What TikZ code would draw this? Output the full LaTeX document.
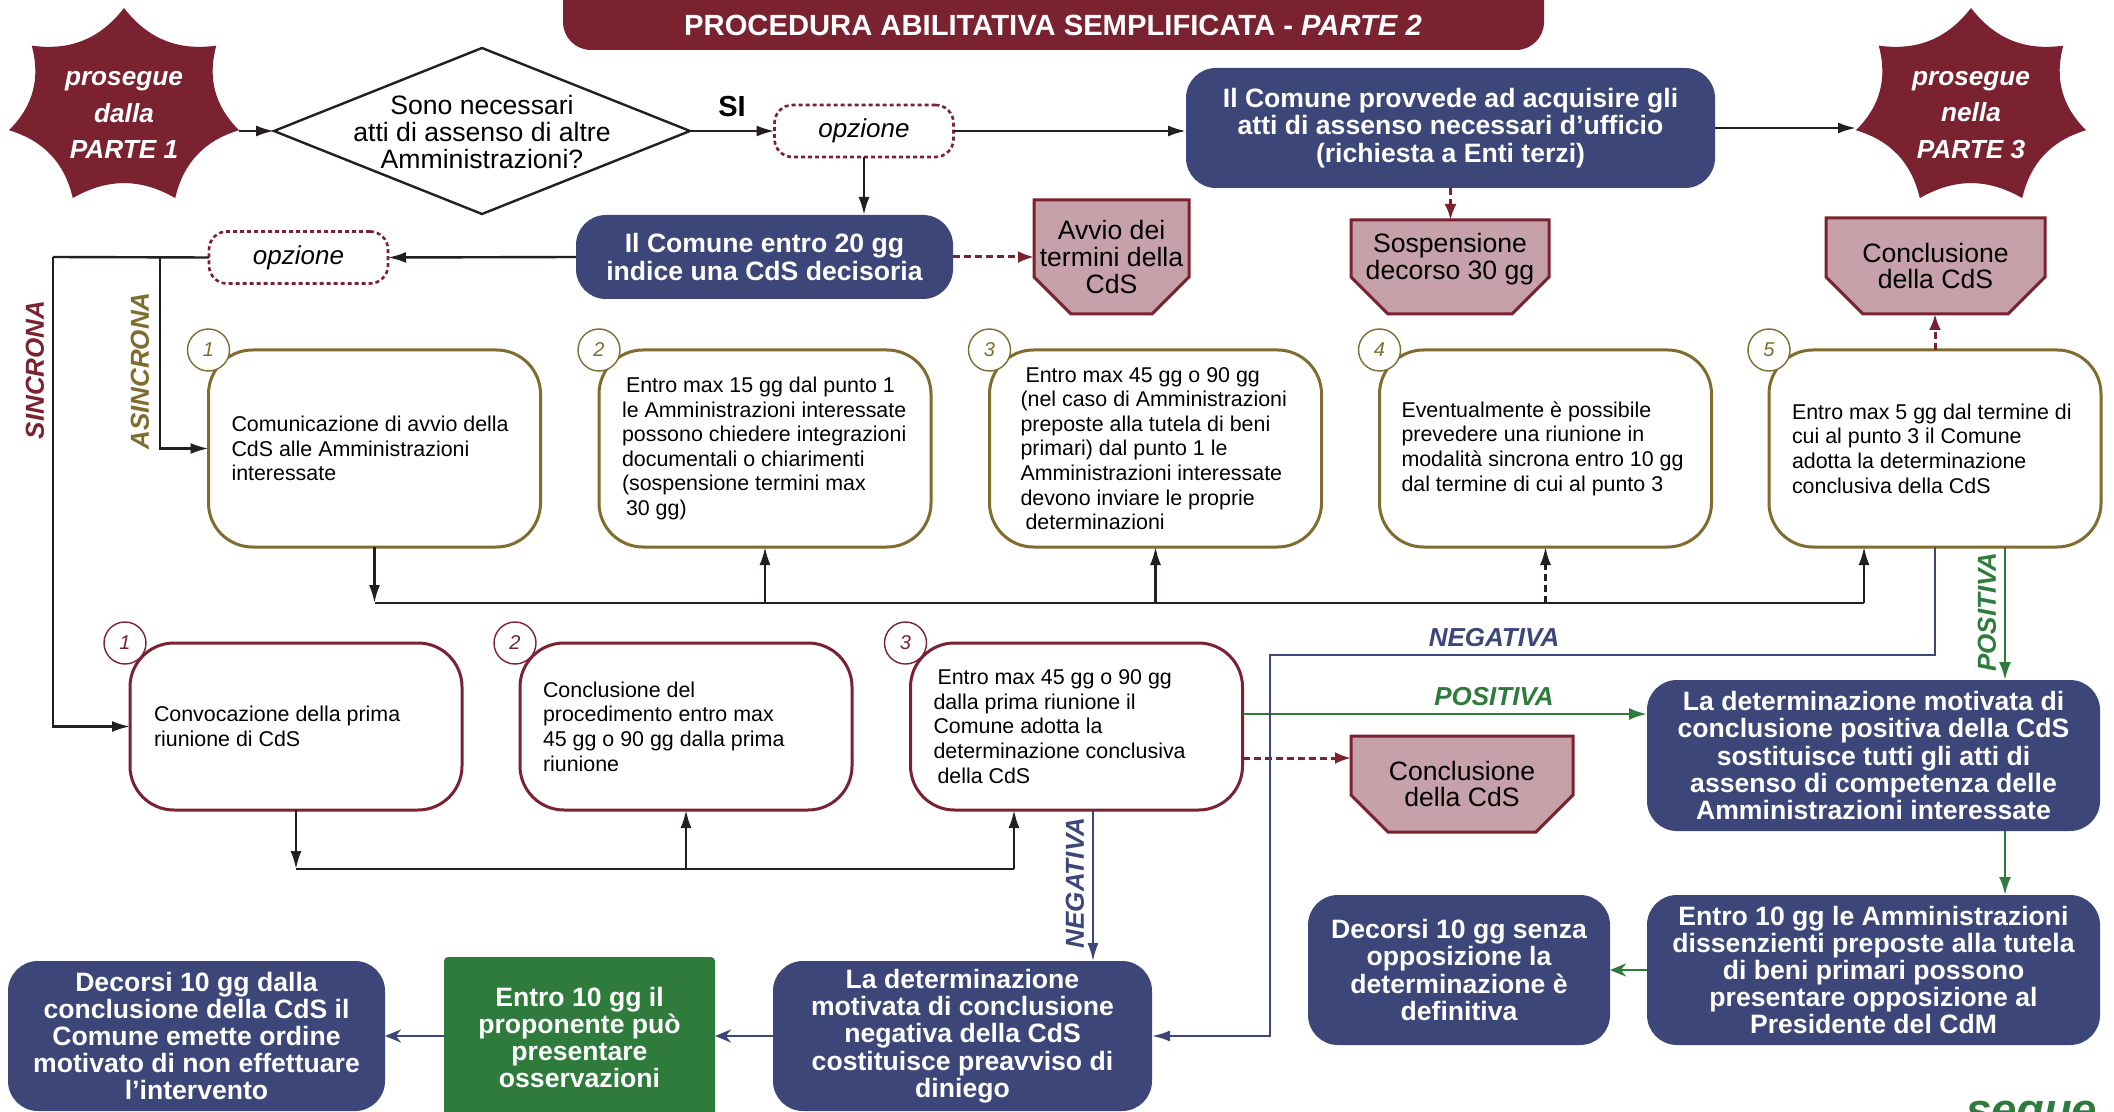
\documentclass[tikz,border=0pt]{standalone}
\usepackage{fontspec}
\setmainfont{Liberation Sans}
\usetikzlibrary{arrows.meta,shapes.geometric}

\definecolor{cMaroon}{HTML}{7A2230}
\definecolor{cOlive}{HTML}{7F6C2E}
\definecolor{cNavy}{HTML}{3C4679}
\definecolor{cPink}{HTML}{C6A1A9}
\definecolor{cGreen}{HTML}{2E7B3C}
\definecolor{cInk}{HTML}{231F20}

\newcommand\fsz[2]{\fontsize{#1pt}{#2pt}\selectfont}

\pgfdeclarelayer{bg}
\pgfsetlayers{bg,main}

% seven-pointed burst with concave sides, centred at (#1,#2)
\newcommand\burst[2]{%
  \begin{scope}[shift={(#1,#2)}]
    \fill[cMaroon] (-90:118 and 100)
      \foreach \k in {1,...,6}{ to[bend right=30] ({-90+\k*360/7}:118 and 100) }
      to[bend right=30] (-90:118 and 100) -- cycle;
  \end{scope}}

% chamfered outline behind a pink node; #2 = how far the outline reaches below the node
\newcommand\pinkoutline[2]{%
  \draw[pinkshape] (#1.north west) -- (#1.north east)
    -- ([yshift=18.5pt-#2]#1.south east) -- ([xshift=-18.5pt,yshift=-#2]#1.south east)
    -- ([xshift=18.5pt,yshift=-#2]#1.south west) -- ([yshift=18.5pt-#2]#1.south west) -- cycle;}

\tikzset{
  every node/.style={inner sep=0pt, outer sep=0pt},
  titletext/.style={font=\bfseries\fsz{14.6}{17}, text=white},
  startext/.style={font=\bfseries\itshape\fsz{13.1}{18.3}, text=white, align=center},
  decision/.style={diamond, draw=cInk, line width=1.2pt, fill=white,
    minimum width=208pt, minimum height=83pt},
  qtext/.style={font=\fsz{13.3}{13.5}, align=center},
  silabel/.style={font=\bfseries\fsz{14.5}{16}},
  optbox/.style={draw=cMaroon, line width=1.3pt, dash pattern=on 2pt off 1.5pt,
    rounded corners=9pt, fill=white, minimum width=89.5pt, minimum height=26pt,
    font=\itshape\fsz{13}{15}},
  navybox/.style={fill=cNavy, rounded corners=15pt, text=white, align=center,
    font=\bfseries\fsz{13.3}{13.6}},
  greenbox/.style={fill=cGreen, rounded corners=2pt, text=white, align=center,
    font=\bfseries\fsz{13.3}{13.6}},
  pinkbox/.style={align=center, font=\fsz{13.3}{13.3}},
  pinkshape/.style={fill=cPink, draw=cMaroon, line width=1.5pt},
  olivebox/.style={draw=cOlive, line width=1.5pt, fill=white, rounded corners=22pt,
    minimum width=166pt, minimum height=98.5pt},
  maroonbox/.style={draw=cMaroon, line width=1.5pt, fill=white, rounded corners=22pt,
    minimum width=166pt, minimum height=83.5pt},
  boxtext/.style={anchor=west, align=left, font=\fsz{10.7}{12.3}},
  numcirc/.style={circle, draw=#1, fill=white, line width=0.7pt, minimum size=21pt,
    text=#1, font=\itshape\fsz{10}{12}},
  lbl/.style={font=\bfseries\itshape\fsz{13}{15}},
  bus/.style={draw=cInk, line width=1.2pt},
  arr/.style={bus, -{Latex[length=9pt,width=5.5pt]}},
  dasharr/.style={arr, dash pattern=on 3.5pt off 2pt},
  maroonarr/.style={draw=cMaroon, line width=1.5pt, dash pattern=on 3.5pt off 2pt,
    -{Latex[length=8pt,width=6pt]}},
  navyarr/.style={draw=cNavy, line width=1pt, -{Latex[length=9pt,width=5.5pt]}},
  navyarrS/.style={draw=cNavy, line width=1.4pt, -{Stealth[length=8pt,width=6.5pt]}},
  greenarr/.style={draw=cGreen, line width=1.3pt, -{Latex[length=9pt,width=6pt]}},
  greenarrS/.style={draw=cGreen, line width=1.4pt, -{Stealth[length=8pt,width=6.5pt]}},
}

\begin{document}
\begin{tikzpicture}[x=0.5pt,y=-0.5pt]
\useasboundingbox (0,0) rectangle (2114,1112);
\begin{pgfonlayer}{bg}
  \fill[white] (0,0) rectangle (2114,1112);
\end{pgfonlayer}
\clip (0,0) rectangle (2114,1112);

% ---------- title band ----------
\fill[cMaroon, rounded corners=14pt] (563,-40) rectangle (1544,50);
\node[titletext] (title) at (1053,25) {PROCEDURA ABILITATIVA SEMPLIFICATA - \textit{PARTE 2}};

% ---------- continuation bursts ----------
\burst{124}{108}
\burst{1971}{108}
\node[startext] (fromP1) at (124,115) {prosegue\\dalla\\PARTE 1};
\node[startext] (toP3) at (1971,115) {prosegue\\nella\\PARTE 3};
\coordinate (fromP1tip) at (239,131);
\coordinate (toP3tip) at (1856,130);

% ---------- first row ----------
\node[decision] (q) at (482,131) {};
\node[qtext] (qt) at (482,132) {Sono necessari\\atti di assenso di altre\\Amministrazioni?};
\node[silabel] (si) at (732,107) {SI};
\node[optbox] (opz1) at (864,131) {opzione};
\node[navybox, minimum width=264.5pt, minimum height=60pt] (blue1) at (1450.5,128)
  {Il Comune provvede ad acquisire gli\\atti di assenso necessari d’ufficio\\(richiesta a Enti terzi)};
\node[navybox, minimum width=188.5pt, minimum height=42pt] (blue2) at (764.5,257)
  {Il Comune entro 20 gg\\indice una CdS decisoria};
\node[optbox] (opz2) at (298.5,257.5) {opzione};

% ---------- pink milestones ----------
\node[pinkbox, minimum width=77.5pt, minimum height=57pt] (p1) at (1111.5,257) {Avvio dei\\termini della\\CdS};
\node[pinkbox, minimum width=99pt, minimum height=39pt] (p2) at (1450,259) {Sospensione\\decorso 30 gg};
\node[pinkbox, minimum width=109.5pt, minimum height=48pt] (p3) at (1935.5,266) {Conclusione\\della CdS};
\node[pinkbox, minimum width=111pt, minimum height=48pt] (p4) at (1462,784) {Conclusione\\della CdS};
\begin{pgfonlayer}{bg}
  \pinkoutline{p1}{0pt}\pinkoutline{p2}{8pt}\pinkoutline{p3}{0pt}\pinkoutline{p4}{0pt}
\end{pgfonlayer}

% ---------- asynchronous conference ----------
\node[olivebox] (a1) at (374.5,448.5) {};
\node[olivebox] (a2) at (765,448.5) {};
\node[olivebox] (a3) at (1155.5,448.5) {};
\node[olivebox] (a4) at (1545.5,448.5) {};
\node[olivebox] (a5) at (1935,448.5) {};
\node[boxtext] (a1t) at ([xshift=11.5pt]a1.west) {Comunicazione di avvio della\\CdS alle Amministrazioni\\interessate};
\node[boxtext] (a2t) at ([xshift=11.5pt]a2.west) {\hspace*{2pt}Entro max 15 gg dal punto 1\\le Amministrazioni interessate\\possono chiedere integrazioni\\documentali o chiarimenti\\(sospensione termini max\\\hspace*{2pt}30 gg)};
\node[boxtext] (a3t) at ([xshift=15.5pt]a3.west) {\hspace*{2.5pt}Entro max 45 gg o 90 gg\\(nel caso di Amministrazioni\\preposte alla tutela di beni\\primari) dal punto 1 le\\Amministrazioni interessate\\devono inviare le proprie\\\hspace*{2.5pt}determinazioni};
\node[boxtext] (a4t) at ([xshift=11pt]a4.west) {Eventualmente è possibile\\prevedere una riunione in\\modalità sincrona entro 10 gg\\dal termine di cui al punto 3};
\node[boxtext] (a5t) at ([xshift=11.5pt]a5.west) {Entro max 5 gg dal termine di\\cui al punto 3 il Comune\\adotta la determinazione\\conclusiva della CdS};
\node[numcirc=cOlive] (na1) at (a1.north west) {1};
\node[numcirc=cOlive] (na2) at (a2.north west) {2};
\node[numcirc=cOlive] (na3) at (a3.north west) {3};
\node[numcirc=cOlive] (na4) at (a4.north west) {4};
\node[numcirc=cOlive] (na5) at (a5.north west) {5};

% ---------- synchronous conference ----------
\node[maroonbox] (s1) at (296,726.5) {};
\node[maroonbox] (s2) at (686,726.5) {};
\node[maroonbox] (s3) at (1076.5,726.5) {};
\node[boxtext] (s1t) at ([xshift=12pt]s1.west) {Convocazione della prima\\riunione di CdS};
\node[boxtext] (s2t) at ([xshift=11.5pt]s2.west) {Conclusione del\\procedimento entro max\\45 gg o 90 gg dalla prima\\riunione};
\node[boxtext] (s3t) at ([xshift=11.5pt]s3.west) {\hspace*{2pt}Entro max 45 gg o 90 gg\\dalla prima riunione il\\Comune adotta la\\determinazione conclusiva\\\hspace*{2pt}della CdS};
\node[numcirc=cMaroon] (ns1) at ([xshift=-2.5pt]s1.north west) {1};
\node[numcirc=cMaroon] (ns2) at ([xshift=-2.5pt]s2.north west) {2};
\node[numcirc=cMaroon] (ns3) at ([xshift=-2.5pt]s3.north west) {3};

% ---------- outcome boxes ----------
\node[navybox, minimum width=226.5pt, minimum height=75.5pt] (bp) at (1873.5,755.5)
  {La determinazione motivata di\\conclusione positiva della CdS\\sostituisce tutti gli atti di\\assenso di competenza delle\\Amministrazioni interessate};
\node[navybox, minimum width=226.5pt, minimum height=75pt] (bo) at (1873.5,970)
  {Entro 10 gg le Amministrazioni\\dissenzienti preposte alla tutela\\di beni primari possono\\presentare opposizione al\\Presidente del CdM};
\node[navybox, minimum width=151pt, minimum height=75pt] (bd) at (1459,970)
  {Decorsi 10 gg senza\\opposizione la\\determinazione è\\definitiva};
\node[navybox, minimum width=189.5pt, minimum height=75pt] (bn) at (962.5,1036)
  {La determinazione\\motivata di conclusione\\negativa della CdS\\costituisce preavviso di\\diniego};
\node[greenbox, minimum width=135.5pt, minimum height=80.5pt] (gr) at (579.5,1037.5)
  {Entro 10 gg il\\proponente può\\presentare\\osservazioni};
\node[navybox, minimum width=188.5pt, minimum height=75pt] (bl) at (196.5,1036)
  {Decorsi 10 gg dalla\\conclusione della CdS il\\Comune emette ordine\\motivato di non effettuare\\l’intervento};
\node[font=\bfseries\itshape\fsz{22.7}{26}, text=cGreen, anchor=base west] (seg) at (1966,1125) {segue};

% ---------- connectors: first row ----------
\draw[arr] (fromP1tip) -- (q.west);
\draw[arr] (q.east) -- (opz1.west);
\draw[arr] (opz1.east) -- (opz1.east -| blue1.west);
\draw[arr] (opz1.south) -- (opz1.south |- blue2.north);
\draw[arr] (blue1.east) -- (blue1.east -| toP3tip);
\draw[maroonarr] (blue1.south) -- (blue1.south |- p2.north);
\draw[maroonarr] (blue2.east) -- (blue2.east -| p1.west);
\draw[arr] (blue2.west) -- (opz2.east);

% ---------- branch to the two modes ----------
\coordinate (jS) at (53,257);
\coordinate (jA) at (160,257);
\draw[bus] (opz2.west) -- (jS);
\draw[arr] (jS) |- (s1.west);
\draw[arr] (jA) |- (a1.west);
\node[lbl, text=cMaroon, rotate=90] (lS) at (35,370) {SINCRONA};
\node[lbl, text=cOlive, rotate=90] (lA) at (140,371) {ASINCRONA};

% ---------- asynchronous sequence ----------
\coordinate (busA) at (1864,603);
\draw[arr] (a1.south) -- (a1.south |- busA);
\draw[bus] (a1.south |- busA) -- (busA);
\draw[arr] (a2.south |- busA) -- (a2.south);
\draw[arr] (a3.south |- busA) -- (a3.south);
\draw[dasharr] (a4.south |- busA) -- (a4.south);
\draw[arr] (busA) -- (busA |- a5.south);
\draw[maroonarr] (a5.north) -- (a5.north |- p3.south);

% ---------- synchronous sequence ----------
\coordinate (busS) at (1014,869);
\draw[arr] (s1.south) -- (s1.south |- busS);
\draw[bus] (s1.south |- busS) -- (busS);
\draw[arr] (s2.south |- busS) -- (s2.south);
\draw[arr] (busS) -- (busS |- s3.south);

% ---------- outcomes ----------
\coordinate (negx) at (1093,0);
\draw[navyarr] (s3.south -| negx) -- (negx |- bn.north);
\node[lbl, text=cNavy, rotate=90] (lNs) at (1075,883) {NEGATIVA};

\coordinate (posy) at (0,714);
\draw[greenarr] (s3.east |- posy) -- (bp.west |- posy);
\node[lbl, text=cGreen] (lPs) at (1494,697) {POSITIVA};

\coordinate (p4y) at (0,758);
\draw[maroonarr] (s3.east |- p4y) -- (p4.west |- p4y);

\coordinate (nk) at (1270,655);
\draw[navyarr] (a5.south) |- (nk) |- (bn.east);
\node[lbl, text=cNavy] (lNa) at (1494,638) {NEGATIVA};

\coordinate (posx) at (2005,0);
\draw[greenarr] (a5.south -| posx) -- (posx |- bp.north);
\node[lbl, text=cGreen, rotate=90] (lPa) at (1987,612) {POSITIVA};
\draw[greenarr] (bp.south -| posx) -- (posx |- bo.north);
\draw[greenarrS] (bo.west) -- (bd.east);

\draw[navyarrS] (bn.west) -- (bn.west -| gr.east);
\draw[navyarrS] (gr.west |- bn.west) -- (bn.west -| bl.east);
\end{tikzpicture}
\end{document}
